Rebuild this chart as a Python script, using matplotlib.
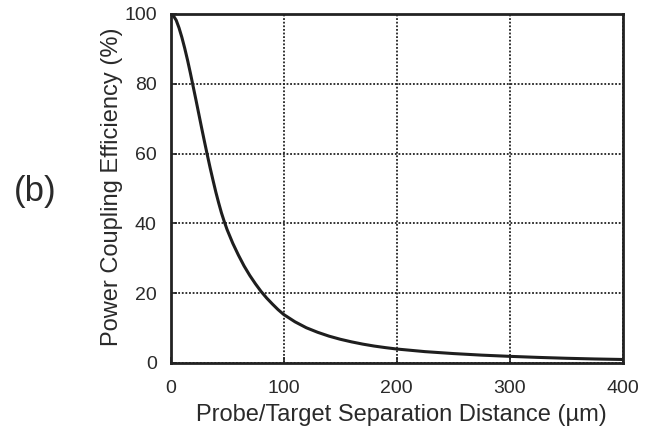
import matplotlib
matplotlib.use("Agg")
import matplotlib.pyplot as plt

# Data
distance_um = [0, 2.5, 5, 7.5, 10, 12.5, 15, 17.5, 20, 22.5, 25, 27.5, 30,
               32.5, 35, 37.5, 40, 42.5, 45, 47.5, 50, 55, 60, 65, 70, 75, 80,
               85, 90, 95, 100, 110, 120, 130, 140, 150, 160, 170, 180, 190,
               200, 225, 250, 275, 300, 325, 350, 375, 400]
efficiency_pct = [100, 99.5, 98.2, 96.0, 93.3, 90.2, 86.8, 83.1, 79.2, 75.3,
                  71.3, 67.3, 63.4, 59.6, 55.9, 52.4, 49.0, 45.9, 43.0, 40.5,
                  38.2, 34.3, 30.9, 27.8, 25.1, 22.7, 20.5, 18.6, 16.9, 15.3,
                  13.9, 11.8, 10.1, 8.8, 7.7, 6.8, 6.05, 5.4, 4.85, 4.4, 4.0,
                  3.25, 2.7, 2.25, 1.9, 1.6, 1.35, 1.15, 1.0]
x_ticks = [0, 100, 200, 300, 400]
y_ticks = [0, 20, 40, 60, 80, 100]

plt.rcParams['font.family'] = ['Liberation Sans', 'DejaVu Sans']
txt = '#2a2a2a'

fig = plt.figure(figsize=(6.51, 4.33), dpi=100)
ax = fig.add_axes([0.262, 0.1617, 0.695, 0.806])

ax.plot(distance_um, efficiency_pct, color='#1e1e1e', lw=2.2,
        solid_capstyle='round', solid_joinstyle='round', zorder=3)

ax.set_xlim(0, 400)
ax.set_ylim(0, 100)
ax.set_xticks(x_ticks)
ax.set_yticks(y_ticks)
ax.grid(True, color='#222222', linestyle=(0, (1, 1)), linewidth=1.3)
for s in ax.spines.values():
    s.set_linewidth(2.0)
    s.set_color('#222222')
    s.set_zorder(4)

ax.tick_params(direction='in', length=4, width=1.2, colors='#222222',
               labelsize=14, labelcolor=txt)
ax.tick_params(axis='x', pad=12)
ax.tick_params(axis='y', pad=10)

ax.set_xlabel('Probe/Target Separation Distance (\u00b5m)', fontsize=17,
              color=txt)
ax.set_ylabel('Power Coupling Efficiency (%)', fontsize=17, color=txt)
ax.xaxis.set_label_coords((401 - 170.5) / 452.5, (363 - 415) / 349,
                          transform=ax.transAxes)
ax.xaxis.label.set_va('center')
ax.yaxis.set_label_coords((112 - 170.5) / 452.5, (363 - 187) / 349,
                          transform=ax.transAxes)
ax.yaxis.label.set_va('center')

fig.text(35 / 651, 1 - 191 / 433, '(b)', fontsize=25, color=txt,
         ha='center', va='center')

fig.savefig('out.png', dpi=100)
